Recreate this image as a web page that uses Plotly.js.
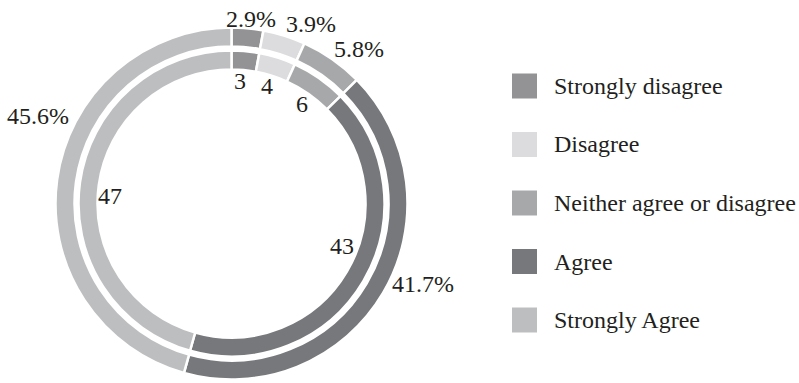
<!DOCTYPE html>
<html>
<head>
<meta charset="utf-8">
<script src="https://cdn.plot.ly/plotly-3.0.1.min.js"></script>
<style>
  html, body { margin: 0; padding: 0; background: #ffffff; }
  #chart { width: 799px; height: 383px; }
</style>
</head>
<body>
<div id="chart"></div>
<script>
// Survey responses: counts (inner ring) and share of respondents (outer ring)
const categories = ['Strongly disagree', 'Disagree', 'Neither agree or disagree', 'Agree', 'Strongly Agree'];
const counts = [3, 4, 6, 43, 47];
const percents = [2.9, 3.9, 5.8, 41.7, 45.6];

// Styling
const colors = ['#939395', '#dcdcde', '#a7a8aa', '#77787b', '#bdbec0'];
const textColor = '#231f20';
const fontFamily = 'Liberation Serif';
const W = 799, H = 383;

// Ring geometry in pixels
const cx = 231.5, cy = 203.5;
const outerR = 176, outerHole = 157;
const innerR = 153, innerHole = 134;

// Label anchor points (pixel centres of the text)
const outerLabelPos = [[251, 19], [311, 24], [359, 49], [423, 284], [38, 116]];
const innerLabelPos = [[240, 81], [267, 86], [302, 104], [342, 246], [110, 196]];

function domainFor(r) {
  return {
    x: [(cx - r) / W, (cx + r) / W],
    y: [(H - cy - r) / H, (H - cy + r) / H]
  };
}

const ringCommon = {
  type: 'pie',
  labels: categories,
  sort: false,
  direction: 'clockwise',
  rotation: 0,
  textinfo: 'none',
  hoverinfo: 'label+value',
  showlegend: false,
  marker: { colors: colors, line: { color: '#ffffff', width: 2.5 } }
};

const outerRing = Object.assign({}, ringCommon, {
  values: percents,
  hole: outerHole / outerR,
  domain: domainFor(outerR),
  name: 'Percent'
});

const innerRing = Object.assign({}, ringCommon, {
  values: counts,
  hole: innerHole / innerR,
  domain: domainFor(innerR),
  name: 'Count'
});

const annotations = [];
const shapes = [];
const labelFont = { family: fontFamily, size: 24, color: textColor };

percents.forEach((p, i) => {
  annotations.push({
    xref: 'paper', yref: 'paper',
    x: outerLabelPos[i][0] / W, y: 1 - outerLabelPos[i][1] / H,
    xanchor: 'center', yanchor: 'middle',
    text: p.toFixed(1) + '%', showarrow: false, font: labelFont
  });
});

counts.forEach((c, i) => {
  annotations.push({
    xref: 'paper', yref: 'paper',
    x: innerLabelPos[i][0] / W, y: 1 - innerLabelPos[i][1] / H,
    xanchor: 'center', yanchor: 'middle',
    text: String(c), showarrow: false, font: labelFont
  });
});

// Legend: square swatches with category names
const legendX = 512, legendSize = 25, legendTextX = 552;
const legendTop = 86, legendStep = 58.5;
categories.forEach((name, i) => {
  const yc = legendTop + i * legendStep;
  shapes.push({
    type: 'rect', xref: 'paper', yref: 'paper',
    x0: legendX / W, x1: (legendX + legendSize) / W,
    y0: 1 - (yc + legendSize / 2) / H, y1: 1 - (yc - legendSize / 2) / H,
    fillcolor: colors[i], line: { width: 0 }
  });
  annotations.push({
    xref: 'paper', yref: 'paper',
    x: legendTextX / W, y: 1 - yc / H,
    xanchor: 'left', yanchor: 'middle',
    text: name, showarrow: false, font: labelFont
  });
});

const layout = {
  width: W, height: H,
  autosize: false,
  margin: { l: 0, r: 0, t: 0, b: 0, pad: 0 },
  paper_bgcolor: '#ffffff',
  plot_bgcolor: '#ffffff',
  showlegend: false,
  font: { family: fontFamily, color: textColor },
  annotations: annotations,
  shapes: shapes
};

Plotly.newPlot('chart', [outerRing, innerRing], layout, { displayModeBar: false, staticPlot: true });
</script>
</body>
</html>
